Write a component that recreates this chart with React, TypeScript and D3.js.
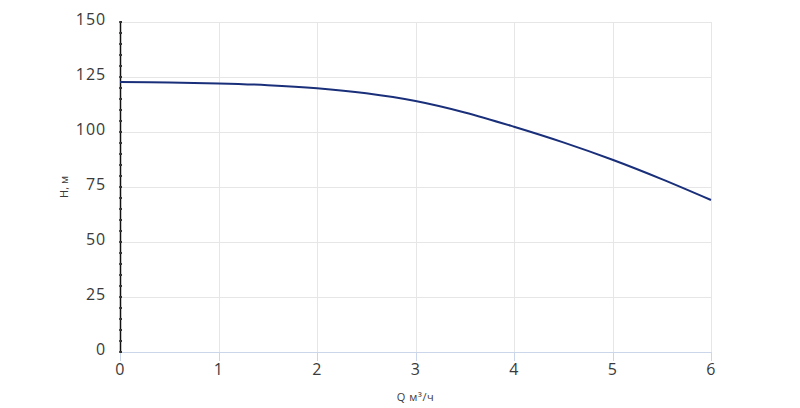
import React, { useRef, useEffect } from "react";
import * as d3 from "d3";

const WIDTH = 800;
const HEIGHT = 408;
const MARGIN = { top: 22, right: 89, bottom: 56, left: 120 };

// pump curve: Q (м³/ч) vs H (м)
const Q_VALUES = [0, 0.5, 1, 1.5, 2, 2.5, 3, 3.5, 4, 4.5, 5, 5.5, 6];
const H_VALUES = [122.7, 122.5, 122.1, 121.3, 119.9, 117.6, 114.1, 108.9, 102.4, 95.3, 87.4, 78.6, 69.1];
const X_TICKS = [0, 1, 2, 3, 4, 5, 6];
const Y_TICKS = [0, 25, 50, 75, 100, 125, 150];
const Y_MINOR = d3.range(0, 151, 5);

export default function App() {
  const svgRef = useRef<SVGSVGElement>(null);

  useEffect(() => {
    const svg = d3.select(svgRef.current);
    svg.selectAll("*").remove();

    const innerW = WIDTH - MARGIN.left - MARGIN.right;
    const innerH = HEIGHT - MARGIN.top - MARGIN.bottom;

    const x = d3.scaleLinear().domain([0, 6]).range([0, innerW]);
    const y = d3.scaleLinear().domain([0, 150]).range([innerH, 0]);

    const g = svg
      .append("g")
      .attr("transform", `translate(${MARGIN.left},${MARGIN.top})`);

    // ── Grid ────────────────────────────────────────────────
    g.selectAll("line.hgrid")
      .data(Y_TICKS.filter((d) => d !== 0))
      .join("line")
      .attr("class", "hgrid")
      .attr("x1", 0)
      .attr("x2", innerW)
      .attr("y1", (d) => y(d) + 0.5)
      .attr("y2", (d) => y(d) + 0.5)
      .attr("stroke", "#e6e6e6")
      .attr("stroke-width", 1);

    g.selectAll("line.vgrid")
      .data(X_TICKS.filter((d) => d !== 0))
      .join("line")
      .attr("class", "vgrid")
      .attr("x1", (d) => Math.round(x(d)) + 0.5)
      .attr("x2", (d) => Math.round(x(d)) + 0.5)
      .attr("y1", 0)
      .attr("y2", innerH)
      .attr("stroke", "#e6e6e6")
      .attr("stroke-width", 1);

    // ── X axis ──────────────────────────────────────────────
    g.append("line")
      .attr("x1", 0)
      .attr("x2", innerW)
      .attr("y1", innerH + 0.5)
      .attr("y2", innerH + 0.5)
      .attr("stroke", "#ccd6eb");

    g.selectAll("line.xtick")
      .data(X_TICKS)
      .join("line")
      .attr("class", "xtick")
      .attr("x1", (d) => Math.round(x(d)) + 0.5)
      .attr("x2", (d) => Math.round(x(d)) + 0.5)
      .attr("y1", innerH)
      .attr("y2", innerH + 9)
      .attr("stroke", "#ccd6eb");

    g.selectAll("text.xlabel")
      .data(X_TICKS)
      .join("text")
      .attr("class", "xlabel")
      .attr("x", (d) => x(d))
      .attr("y", innerH + 23)
      .attr("text-anchor", "middle")
      .attr("font-size", 16)
      .attr("letter-spacing", 0.5)
      .attr("fill", "#3a3a3a")
      .text((d) => d);

    // ── Y axis ──────────────────────────────────────────────
    g.append("line")
      .attr("x1", 0.5)
      .attr("x2", 0.5)
      .attr("y1", 0)
      .attr("y2", innerH)
      .attr("stroke", "#111")
      .attr("stroke-width", 1.5);

    g.selectAll("rect.ymin")
      .data(Y_MINOR)
      .join("rect")
      .attr("class", "ymin")
      .attr("x", -0.8)
      .attr("y", (d) => y(d) - 1)
      .attr("width", 2.8)
      .attr("height", 2)
      .attr("fill", "#333");

    g.selectAll("text.ylabel")
      .data(Y_TICKS)
      .join("text")
      .attr("class", "ylabel")
      .attr("x", -14)
      .attr("y", (d) => y(d) + 3)
      .attr("text-anchor", "end")
      .attr("font-size", 16)
      .attr("letter-spacing", 0.9)
      .attr("fill", "#3a3a3a")
      .text((d) => d);

    // ── Curve ───────────────────────────────────────────────
    const points = Q_VALUES.map((q, i) => [q, H_VALUES[i]] as [number, number]);
    const line = d3
      .line<[number, number]>()
      .x((d) => x(d[0]))
      .y((d) => y(d[1]))
      .curve(d3.curveCatmullRom.alpha(0.5));

    g.append("path")
      .datum(points)
      .attr("d", line)
      .attr("fill", "none")
      .attr("stroke", "#1a2f7a")
      .attr("stroke-width", 2);

    // ── Axis titles ─────────────────────────────────────────
    svg
      .append("text")
      .attr("x", MARGIN.left + innerW / 2)
      .attr("y", 401)
      .attr("text-anchor", "middle")
      .attr("font-size", 11)
      .attr("letter-spacing", 0.6)
      .attr("fill", "#3a3a3a")
      .text("Q м³/ч");

    svg
      .append("text")
      .attr("transform", `translate(68,${MARGIN.top + innerH / 2}) rotate(-90)`)
      .attr("text-anchor", "middle")
      .attr("font-size", 11)
      .attr("fill", "#3a3a3a")
      .text("H, м");
  }, []);

  return (
    <svg
      ref={svgRef}
      width={WIDTH}
      height={HEIGHT}
      style={{
        position: "absolute",
        left: 0,
        top: 0,
        background: "#fff",
        fontFamily: "'Open Sans', sans-serif",
      }}
    />
  );
}
